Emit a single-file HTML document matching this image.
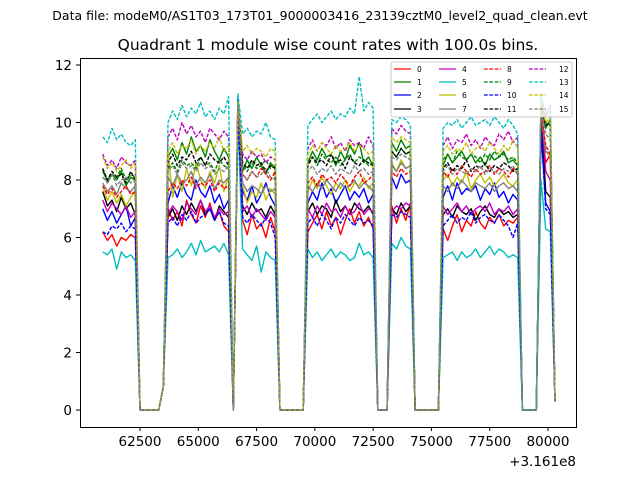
<!DOCTYPE html>
<html><head><meta charset="utf-8"><style>
html,body{margin:0;padding:0;background:#fff;}
svg{display:block;font-family:"DejaVu Sans","Liberation Sans",sans-serif;}
</style></head><body>
<svg id="chart" width="640" height="480" viewBox="0 0 640 480" xmlns="http://www.w3.org/2000/svg">
<rect x="0" y="0" width="640" height="480" fill="#fff"/>
<text x="320" y="20" font-size="12.5" text-anchor="middle" fill="#000">Data file: modeM0/AS1T03_173T01_9000003416_23139cztM0_level2_quad_clean.evt</text>
<text x="328" y="50" font-size="15.5" text-anchor="middle" fill="#000">Quadrant 1 module wise count rates with 100.0s bins.</text>
<defs><clipPath id="clip"><rect x="80" y="58" width="496" height="369"/></clipPath></defs>
<g id="plot" clip-path="url(#clip)"></g>
<rect x="80.5" y="58.5" width="496" height="369" fill="none" stroke="#000" stroke-width="1"/>
<g id="xticks"></g>
<g id="yticks"></g>
<text x="576" y="466" font-size="13.5" text-anchor="end">+3.161e8</text>
<g id="legend"></g>
</svg>
<script>
const xTicks = [62500, 65000, 67500, 70000, 72500, 75000, 77500, 80000];
const yTicks = [0, 2, 4, 6, 8, 10, 12];
const seriesNames = ["0","1","2","3","4","5","6","7","8","9","10","11","12","13","14","15"];
const seriesColors = ["#ff0000","#008000","#0000ff","#000000","#bf00bf","#00bfbf","#bfbf00","#808080","#ff0000","#008000","#0000ff","#000000","#bf00bf","#00bfbf","#bfbf00","#808080"];
const times = [];
for (let t = 60900; t <= 80300; t += 200) times.push(t);
const s0 = [6.2,5.9,6.1,5.7,6.0,5.9,6.1,6.0, 0,0,0,0,0,0.8, 7.0,6.6,6.9,6.4,7.3,6.8,6.5,7.1,6.7,7.2,6.6,6.9,6.4,6.2, 0, 10.5,6.6,6.1,6.8,6.3,6.5,6.0,6.7,6.2, 0,0,0,0,0,0, 6.2,6.5,6.8,6.3,6.9,6.4,6.7,6.1,6.6,7.0,6.5,6.9,6.4,6.7,6.3, 0,0,0, 7.1,6.5,7.0,6.6,7.2, 0,0,0,0,0,0, 6.3,5.9,6.4,6.8,6.2,6.6,6.4,6.9,6.5,6.3,6.7,6.5,6.8,6.4,6.6,6.5,6.7, 0,0,0,0, 10.2,8.6,8.9,0.3];
const s1 = [8.4,7.9,8.2,8.0,8.3,7.8,8.1,8.0, 0,0,0,0,0,0.8, 8.8,9.1,8.7,9.3,8.9,9.5,9.0,9.2,8.8,9.4,9.0,8.7,9.1,8.8, 0, 10.6,8.3,8.7,8.4,8.8,8.5,8.2,8.6,8.4, 0,0,0,0,0,0, 8.6,9.0,8.7,9.1,8.8,8.9,8.5,9.0,8.7,9.2,8.9,9.3,8.6,8.8,8.5, 0,0,0, 9.3,9.0,9.4,9.1,9.2, 0,0,0,0,0,0, 8.5,8.9,8.6,8.8,9.0,8.7,8.9,8.6,8.8,8.5,8.9,8.7,8.8,9.0,8.6,8.7,8.5, 0,0,0,0, 10.5,9.8,10.1,0.3];
const s2 = [7.0,6.6,6.9,6.5,6.8,7.1,6.4,6.7, 0,0,0,0,0,0.8, 7.2,7.8,7.4,7.9,7.5,7.3,8.0,7.6,7.4,7.8,7.2,7.5,7.0,7.3, 0, 10.4,7.6,7.3,7.8,7.2,7.5,7.9,7.4,7.1, 0,0,0,0,0,0, 7.2,7.6,7.3,7.9,7.4,7.7,7.2,7.5,7.8,7.3,7.6,7.4,7.7,7.2,7.5, 0,0,0, 8.1,7.7,8.2,7.9,8.0, 0,0,0,0,0,0, 7.4,7.8,7.3,7.9,7.5,7.7,7.6,7.8,7.3,7.7,7.5,7.9,7.4,7.6,7.2,7.5,7.3, 0,0,0,0, 9.8,7.2,6.9,0.3];
const s3 = [7.6,7.1,7.3,6.9,7.4,7.0,7.2,6.8, 0,0,0,0,0,0.8, 6.7,7.0,6.6,7.1,6.8,7.2,6.9,7.3,6.8,7.0,6.6,7.1,6.9,6.7, 0, 10.5,7.1,6.8,7.2,6.9,7.0,6.7,7.1,6.8, 0,0,0,0,0,0, 6.9,7.2,6.8,7.1,7.0,6.7,7.3,6.9,7.1,6.8,7.2,7.0,6.9,7.1,6.8, 0,0,0, 7.0,6.8,7.2,6.9,7.1, 0,0,0,0,0,0, 6.8,7.0,6.7,7.1,6.9,6.8,7.0,6.6,6.9,7.1,6.8,6.7,7.0,6.8,6.9,6.7,6.8, 0,0,0,0, 10.3,7.6,7.4,0.3];
const s4 = [7.3,6.9,7.2,7.0,6.8,7.1,6.7,6.9, 0,0,0,0,0,0.8, 6.8,7.1,6.9,6.6,7.2,7.0,6.8,7.3,6.9,7.1,6.7,7.0,6.8,6.9, 0, 10.8,6.9,7.1,6.7,7.0,6.8,6.6,6.9,6.7, 0,0,0,0,0,0, 7.0,6.7,7.1,6.8,7.2,6.9,7.0,6.7,7.1,6.8,6.9,7.2,6.8,7.0,6.9, 0,0,0, 6.9,7.1,7.0,7.2,7.1, 0,0,0,0,0,0, 7.1,6.8,7.0,7.2,6.9,7.1,6.8,7.0,7.1,6.9,7.2,6.8,7.0,6.9,7.1,6.8,7.0, 0,0,0,0, 10.6,8.3,8.0,0.3];
const s5 = [5.5,5.4,5.6,4.9,5.5,5.3,5.4,5.2, 0,0,0,0,0,0.8, 5.3,5.4,5.6,5.3,5.5,5.8,5.4,5.9,5.5,5.6,5.7,5.5,5.8,5.4, 0, 10.0,5.6,5.4,5.2,5.7,4.8,5.5,5.3,5.2, 0,0,0,0,0,0, 5.6,5.3,5.5,5.2,5.4,5.6,5.3,5.5,5.4,5.2,5.3,5.8,5.4,5.5,5.3, 0,0,0, 5.8,5.6,6.0,5.7,5.6, 0,0,0,0,0,0, 5.3,5.4,5.5,5.2,5.5,5.3,5.4,5.6,5.3,5.5,5.7,5.4,5.6,5.5,5.3,5.4,5.3, 0,0,0,0, 8.0,6.3,6.2,0.3];
const s6 = [7.8,7.3,7.6,7.2,7.5,7.1,7.4,7.6, 0,0,0,0,0,0.8, 9.0,7.4,8.2,7.6,8.4,7.8,8.6,8.0,7.7,8.3,7.9,8.5,7.6,8.1, 0, 10.6,7.8,7.2,7.6,7.4,7.9,7.3,7.7,7.5, 0,0,0,0,0,0, 7.6,8.0,7.7,8.1,7.8,7.5,7.9,7.7,8.0,7.6,7.9,7.8,8.1,7.7,7.9, 0,0,0, 8.6,8.3,8.7,8.4,8.5, 0,0,0,0,0,0, 8.0,8.2,7.8,8.1,7.9,8.3,7.7,8.0,8.2,7.9,8.1,7.8,8.0,8.2,7.9,7.8,8.0, 0,0,0,0, 10.4,9.0,8.8,0.3];
const s7 = [7.9,7.6,7.8,7.5,7.9,7.7,7.6,7.8, 0,0,0,0,0,0.8, 8.1,7.8,8.2,7.9,8.0,8.3,7.8,8.1,7.9,8.2,7.7,8.0,7.9,8.1, 0, 10.7,7.9,7.6,7.8,7.7,7.5,7.8,7.6,7.7, 0,0,0,0,0,0, 7.8,7.6,7.9,7.7,8.0,7.8,7.6,7.9,7.7,7.8,8.0,7.7,7.9,7.8,7.6, 0,0,0, 8.5,8.3,8.6,8.4,8.5, 0,0,0,0,0,0, 7.8,7.6,7.9,7.7,8.0,7.8,7.6,7.9,7.8,7.7,7.9,7.6,7.8,7.9,7.7,7.8,7.6, 0,0,0,0, 10.5,9.0,8.9,0.3];
const s8 = [7.8,7.5,7.7,7.4,7.6,7.8,7.5,7.6, 0,0,0,0,0,0.8, 7.6,7.9,7.7,8.0,7.8,8.1,7.7,7.9,7.8,8.0,7.6,7.9,7.7,7.8, 0, 10.6,8.2,8.0,8.3,8.1,8.4,8.2,8.0,8.3, 0,0,0,0,0,0, 7.9,8.1,7.8,8.2,8.0,8.1,7.9,8.2,8.0,7.8,8.1,8.3,7.9,8.0,8.2, 0,0,0, 8.3,8.1,8.4,8.2,8.3, 0,0,0,0,0,0, 8.3,8.1,8.4,8.2,8.5,8.3,8.1,8.4,8.2,8.3,8.5,8.2,8.4,8.3,8.1,8.4,8.2, 0,0,0,0, 10.4,9.2,8.9,0.3];
const s9 = [8.3,8.0,8.2,8.1,8.4,8.0,8.2,8.1, 0,0,0,0,0,0.8, 8.4,8.6,8.3,8.7,8.5,8.6,8.4,8.8,8.5,8.6,8.3,8.7,8.5,8.4, 0, 10.7,8.5,8.3,8.6,8.4,8.5,8.7,8.4,8.5, 0,0,0,0,0,0, 8.6,8.8,8.5,8.9,8.7,8.6,8.8,8.5,8.7,8.9,8.6,8.8,8.7,8.5,8.6, 0,0,0, 9.0,8.8,9.1,8.9,9.0, 0,0,0,0,0,0, 8.7,8.9,8.6,9.0,8.8,8.7,8.9,8.8,8.6,8.9,8.7,9.0,8.8,8.9,8.7,8.8,8.6, 0,0,0,0, 10.7,10.0,9.9,0.3];
const s10 = [6.2,6.1,6.4,6.3,6.5,6.2,6.4,6.3, 0,0,0,0,0,0.8, 6.5,6.7,6.4,6.8,6.6,6.9,6.5,6.7,6.8,7.0,6.6,6.9,6.5,6.4, 0, 10.3,6.7,6.5,6.8,6.6,6.4,6.7,6.5,6.0, 0,0,0,0,0,0, 6.5,6.7,6.4,6.8,6.6,6.3,6.7,6.5,6.8,6.6,6.4,6.7,6.5,6.6,6.4, 0,0,0, 6.8,6.7,6.9,6.8,6.7, 0,0,0,0,0,0, 6.4,6.6,6.8,6.5,6.7,6.6,6.9,6.5,6.7,6.8,6.6,6.5,6.8,6.6,6.4,6.0,6.5, 0,0,0,0, 9.8,7.0,6.8,0.3];
const s11 = [8.4,8.0,8.3,8.1,8.2,7.9,8.3,8.0, 0,0,0,0,0,0.8, 8.6,8.9,8.5,8.8,8.7,9.0,8.6,8.8,8.5,8.9,8.7,8.6,8.8,8.5, 0, 10.8,8.6,8.4,8.7,8.5,8.6,8.3,8.5,8.4, 0,0,0,0,0,0, 8.5,8.8,8.6,8.7,8.5,8.9,8.6,8.7,8.4,8.8,8.6,8.5,8.7,8.6,8.5, 0,0,0, 9.0,8.8,9.1,8.9,9.0, 0,0,0,0,0,0, 8.4,8.6,8.3,8.5,8.4,8.7,8.3,8.5,8.4,8.6,8.3,8.5,8.4,8.6,8.5,8.3,8.4, 0,0,0,0, 10.6,9.9,10.0,0.3];
const s12 = [8.9,8.5,8.7,8.4,8.8,8.6,8.5,8.7, 0,0,0,0,0,0.8, 9.5,9.8,9.4,10.0,9.6,9.9,9.5,9.7,9.3,9.8,9.6,9.4,9.7,9.5, 0, 10.9,8.9,8.7,9.0,8.8,8.9,8.6,8.8,8.7, 0,0,0,0,0,0, 9.1,9.4,9.0,9.3,9.2,9.5,9.1,9.3,9.0,9.4,9.2,9.3,9.1,9.5,9.2, 0,0,0, 9.8,9.6,9.9,9.7,9.6, 0,0,0,0,0,0, 9.2,9.5,9.1,9.4,9.3,9.6,9.2,9.4,9.1,9.5,9.3,9.2,9.6,9.4,9.7,9.3,9.5, 0,0,0,0, 10.9,10.2,10.6,0.3];
const s13 = [9.5,9.3,9.8,9.4,9.6,9.3,9.2,9.4, 0,0,0,0,0,0.8, 10.0,10.4,10.1,10.6,10.2,10.5,10.3,10.7,10.2,10.4,10.1,10.5,10.3,10.9, 0, 11.0,9.6,9.8,9.5,9.7,9.6,10.0,9.5,9.4, 0,0,0,0,0,0, 9.9,10.1,10.3,10.0,10.2,10.4,10.1,10.3,10.2,10.5,10.3,11.6,10.4,10.7,10.5, 0,0,0, 10.1,10.0,10.2,10.1,9.9, 0,0,0,0,0,0, 9.8,10.0,9.9,10.1,9.8,10.0,10.2,9.9,10.0,10.1,9.9,10.2,10.0,9.8,10.1,9.9,9.6, 0,0,0,0, 11.0,10.3,10.5,0.3];
const s14 = [8.8,8.4,8.6,8.3,8.5,8.7,8.4,8.6, 0,0,0,0,0,0.8, 9.0,9.3,8.9,9.2,9.1,9.4,8.9,9.2,9.0,9.3,9.1,9.5,9.0,9.2, 0, 10.7,9.0,9.2,8.9,9.1,9.0,8.8,9.1,9.0, 0,0,0,0,0,0, 8.9,9.2,9.0,9.3,9.1,8.9,9.2,9.0,9.1,9.3,9.0,9.2,9.1,8.9,9.0, 0,0,0, 9.5,9.3,9.5,9.4,9.3, 0,0,0,0,0,0, 9.0,9.2,8.9,9.1,9.0,9.3,8.9,9.1,9.2,9.0,9.3,9.1,8.9,9.2,9.0,9.4,9.1, 0,0,0,0, 10.8,10.0,10.2,0.3];
const s15 = [8.1,7.9,8.2,7.8,8.0,8.1,7.9,8.0, 0,0,0,0,0,0.8, 8.3,8.5,8.2,8.6,8.4,8.5,8.3,8.6,8.4,8.5,8.2,8.4,8.3,8.5, 0, 10.6,8.2,8.0,8.3,8.1,8.2,8.4,8.1,8.0, 0,0,0,0,0,0, 8.3,8.5,8.2,8.4,8.3,8.5,8.2,8.4,8.3,8.2,8.5,8.3,8.4,8.2,8.3, 0,0,0, 8.8,8.7,8.9,8.8,8.7, 0,0,0,0,0,0, 8.3,8.5,8.2,8.4,8.3,8.2,8.4,8.3,8.5,8.2,8.4,8.3,8.2,8.4,8.3,8.5,8.2, 0,0,0,0, 10.5,9.6,9.4,0.3];
const seriesValues = [s0,s1,s2,s3,s4,s5,s6,s7,s8,s9,s10,s11,s12,s13,s14,s15];

const NS = "http://www.w3.org/2000/svg";
function xScale(t){ return 140 + (t - 62500) * (408 / 17500); }
function yScale(v){ return 410 - v * (345 / 12); }

const plot = document.getElementById('plot');
seriesValues.forEach((vals, si) => {
  let d = '';
  vals.forEach((v, i) => { d += (i ? 'L' : 'M') + xScale(times[i]).toFixed(1) + ' ' + yScale(v).toFixed(1); });
  const p = document.createElementNS(NS, 'path');
  p.setAttribute('d', d);
  p.setAttribute('fill', 'none');
  p.setAttribute('stroke', seriesColors[si]);
  p.setAttribute('stroke-width', '1.4');
  p.setAttribute('stroke-linejoin', 'round');
  if (si >= 8) p.setAttribute('stroke-dasharray', '3.7,1.6');
  
  
  plot.appendChild(p);
});

const xg = document.getElementById('xticks');
xTicks.forEach(t => {
  const x = xScale(t);
  const l = document.createElementNS(NS, 'line');
  l.setAttribute('x1', x); l.setAttribute('x2', x); l.setAttribute('y1', 427); l.setAttribute('y2', 431);
  l.setAttribute('stroke', '#000');
  
  
  xg.appendChild(l);
  const tx = document.createElementNS(NS, 'text');
  tx.setAttribute('x', x); tx.setAttribute('y', 446);
  tx.setAttribute('font-size', '13.5'); tx.setAttribute('text-anchor', 'middle');
  tx.textContent = t;
  
  
  xg.appendChild(tx);
});
const yg = document.getElementById('yticks');
yTicks.forEach(v => {
  const y = yScale(v);
  const l = document.createElementNS(NS, 'line');
  l.setAttribute('x1', 76); l.setAttribute('x2', 80); l.setAttribute('y1', y); l.setAttribute('y2', y);
  l.setAttribute('stroke', '#000');
  
  
  yg.appendChild(l);
  const tx = document.createElementNS(NS, 'text');
  tx.setAttribute('x', 72); tx.setAttribute('y', y + 5);
  tx.setAttribute('font-size', '13.5'); tx.setAttribute('text-anchor', 'end');
  tx.textContent = v;
  
  
  yg.appendChild(tx);
});

const lg = document.getElementById('legend');
const box = document.createElementNS(NS, 'rect');
box.setAttribute('x', 391); box.setAttribute('y', 62); box.setAttribute('width', 181); box.setAttribute('height', 55);
box.setAttribute('rx', 2); box.setAttribute('fill', '#fff'); box.setAttribute('fill-opacity', '0.8');
box.setAttribute('stroke', '#ccc');


lg.appendChild(box);
const colX = [394, 439, 484, 529];
const rowY = [69, 82, 95, 109];
seriesNames.forEach((n, i) => {
  const c = Math.floor(i / 4), r = i % 4;
  const g = document.createElementNS(NS, 'g');
  
  
  const l = document.createElementNS(NS, 'line');
  l.setAttribute('x1', colX[c]); l.setAttribute('x2', colX[c] + 17);
  l.setAttribute('y1', rowY[r]); l.setAttribute('y2', rowY[r]);
  l.setAttribute('stroke', seriesColors[i]); l.setAttribute('stroke-width', '1.2');
  if (i >= 8) l.setAttribute('stroke-dasharray', '3.7,1.6');
  g.appendChild(l);
  const t = document.createElementNS(NS, 'text');
  t.setAttribute('x', c === 3 ? colX[c] + 30 : colX[c] + 23);
  t.setAttribute('y', rowY[r] + 3);
  t.setAttribute('font-size', '7.5');
  t.textContent = n;
  g.appendChild(t);
  lg.appendChild(g);
});
</script>
</body></html>
